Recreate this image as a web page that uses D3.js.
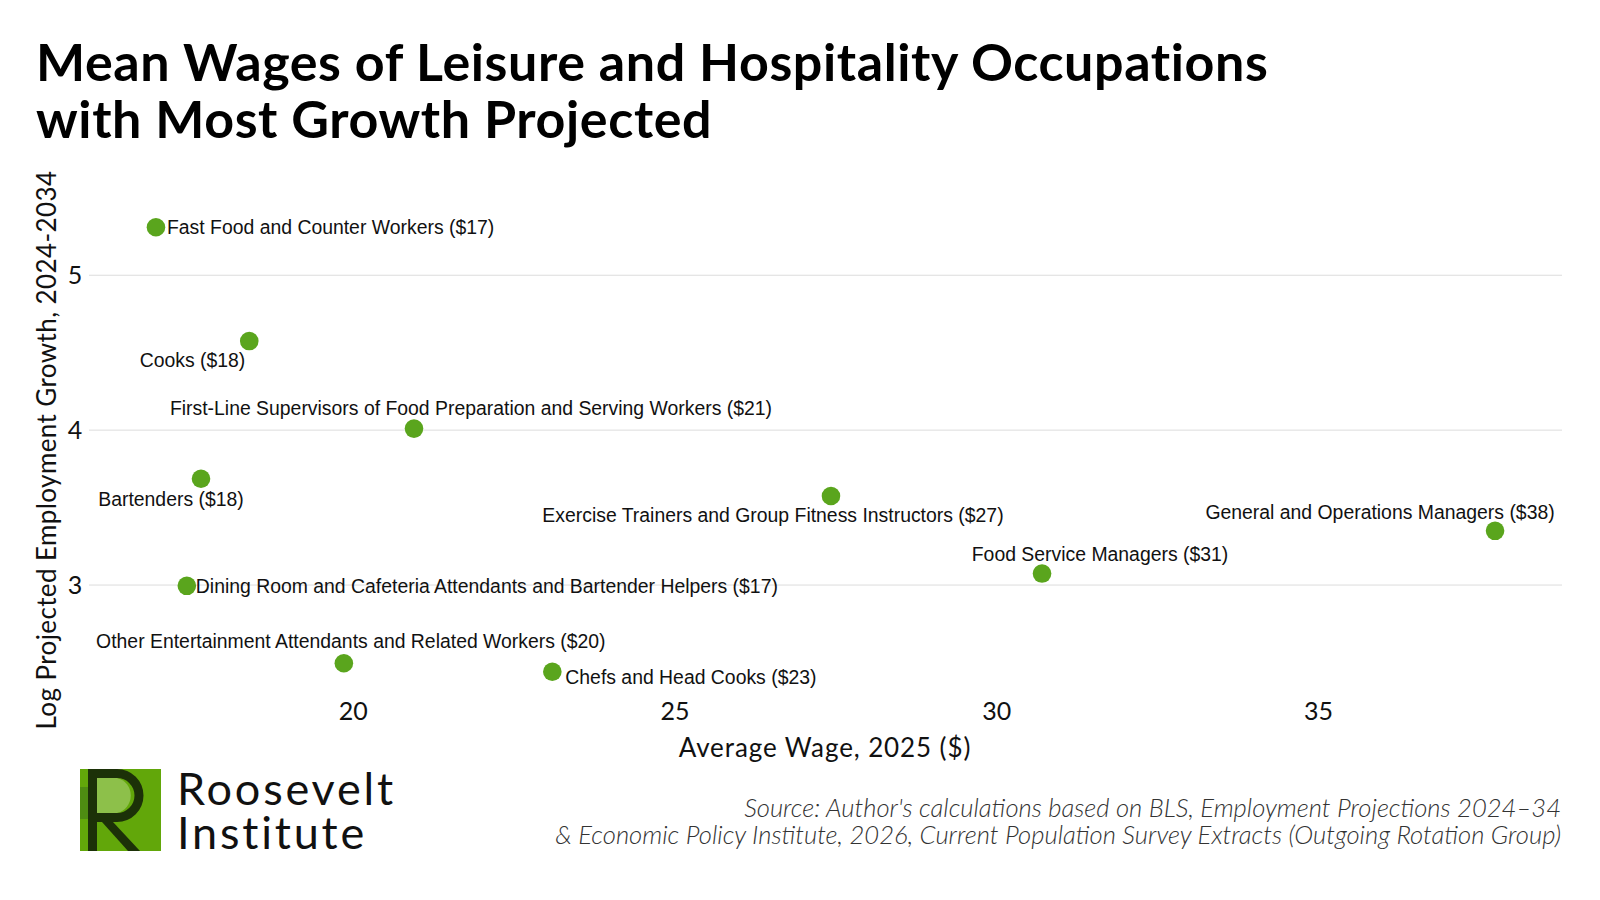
<!DOCTYPE html>
<html>
<head>
<meta charset="utf-8">
<script src="https://cdn.jsdelivr.net/npm/d3@7"></script>
<style>
  body { margin: 0; background: #fff; }
  svg { display: block; }
</style>
</head>
<body>
<svg id="canvas" width="1600" height="900"></svg>
<script>
// occupations, wages and growth
let occupations = [
  "Fast Food and Counter Workers",
  "Cooks",
  "First-Line Supervisors of Food Preparation and Serving Workers",
  "Bartenders",
  "Exercise Trainers and Group Fitness Instructors",
  "General and Operations Managers",
  "Food Service Managers",
  "Dining Room and Cafeteria Attendants and Bartender Helpers",
  "Other Entertainment Attendants and Related Workers",
  "Chefs and Head Cooks"
]
let wages = [16.94, 18.39, 20.95, 17.64, 27.43, 37.75, 30.71, 17.42, 19.86, 23.10]
let growth = [5.31, 4.575, 4.01, 3.686, 3.575, 3.35, 3.074, 2.995, 2.495, 2.44]

let xTicks = [20, 25, 30, 35]
let yTicks = [3, 4, 5]

// where each label sits relative to its dot (repel-style)
let labelPlace = [
  { dx: 11, dy: 0, anchor: 'start' },
  { dx: -4, dy: 19, anchor: 'end' },
  { dx: 57, dy: -20, anchor: 'middle' },
  { dx: -30, dy: 20, anchor: 'middle' },
  { dx: -58, dy: 19.5, anchor: 'middle' },
  { dx: -115, dy: -18.5, anchor: 'middle' },
  { dx: 58, dy: -19.5, anchor: 'middle' },
  { dx: 9, dy: 0, anchor: 'start' },
  { dx: 7, dy: -22.5, anchor: 'middle' },
  { dx: 13, dy: 5, anchor: 'start' }
]

let green = '#5aa51d'
let headFont = 'Lato, "Open Sans", sans-serif'
let labelFont = '"Liberation Sans", Arial, sans-serif'

let canvas = d3.select('#canvas')

let points = occupations.map((name, i) => {
  return { name: name, wage: wages[i], growth: growth[i], place: labelPlace[i] }
})

// ggplot-like 5% expansion
let expand = (ext) => {
  let pad = (ext[1] - ext[0]) * 0.05
  return [ext[0] - pad, ext[1] + pad]
}

let xScale = d3.scaleLinear()
  .domain(expand(d3.extent(wages)))
  .range([89, 1562])

let yScale = d3.scaleLinear()
  .domain(expand(d3.extent(growth)))
  .range([694, 205])

// title
let title = canvas.append('text')
  .attr('x', 36)
  .attr('font-family', headFont)
  .attr('font-weight', 700)
  .attr('font-size', 52)
  .attr('letter-spacing', 0.6)
  .attr('fill', '#000')
title.append('tspan').attr('x', 36).attr('y', 81).text('Mean Wages of Leisure and Hospitality Occupations')
title.append('tspan').attr('x', 36).attr('y', 138).text('with Most Growth Projected')

// horizontal grid
canvas.append('g')
  .selectAll('line')
  .data(yTicks)
  .enter()
  .append('line')
  .attr('x1', xScale.range()[0])
  .attr('x2', xScale.range()[1])
  .attr('y1', (d) => yScale(d))
  .attr('y2', (d) => yScale(d))
  .attr('stroke', '#dcdcdc')
  .attr('stroke-width', 1)

// axes, no lines, just labels
let yAxis = d3.axisLeft(yScale).tickValues(yTicks).tickFormat(d3.format('d')).tickSize(0).tickPadding(0)
let yAxisG = canvas.append('g')
  .attr('transform', 'translate(86,0)')
  .call(yAxis)
yAxisG.select('.domain').remove()
yAxisG.selectAll('text')
  .attr('font-family', headFont)
  .attr('font-size', 25)
  .attr('fill', '#111')
  .attr('text-anchor', 'middle')
  .attr('x', -11)

let xAxis = d3.axisBottom(xScale).tickValues(xTicks).tickSize(0).tickPadding(0)
let xAxisG = canvas.append('g')
  .attr('transform', 'translate(0,700)')
  .call(xAxis)
xAxisG.select('.domain').remove()
xAxisG.selectAll('text')
  .attr('font-family', headFont)
  .attr('font-size', 25)
  .attr('fill', '#111')
  .attr('dy', '0.75em')
  .attr('y', 1)

// axis titles
canvas.append('text')
  .attr('x', 825)
  .attr('y', 748)
  .attr('dy', '0.35em')
  .attr('text-anchor', 'middle')
  .attr('font-family', headFont)
  .attr('font-size', 26)
  .attr('letter-spacing', 0.9)
  .attr('fill', '#111')
  .text('Average Wage, 2025 ($)')

canvas.append('text')
  .attr('transform', 'translate(47,450) rotate(-90)')
  .attr('dy', '0.35em')
  .attr('text-anchor', 'middle')
  .attr('font-family', headFont)
  .attr('font-size', 26)
  .attr('letter-spacing', 0.4)
  .attr('fill', '#111')
  .text('Log Projected Employment Growth, 2024-2034')

// dots
canvas.append('g')
  .selectAll('circle')
  .data(points)
  .enter()
  .append('circle')
  .attr('cx', (d) => xScale(d.wage))
  .attr('cy', (d) => yScale(d.growth))
  .attr('r', 9.3)
  .attr('fill', green)

// labels
canvas.append('g')
  .selectAll('text')
  .data(points)
  .enter()
  .append('text')
  .attr('x', (d) => xScale(d.wage) + d.place.dx)
  .attr('y', (d) => yScale(d.growth) + d.place.dy)
  .attr('dy', '0.35em')
  .attr('text-anchor', (d) => d.place.anchor)
  .attr('font-family', labelFont)
  .attr('font-size', 19.4)
  .attr('fill', '#111')
  .text((d) => d.name + ' ($' + Math.round(d.wage) + ')')

// source note
let source = canvas.append('text')
  .attr('text-anchor', 'end')
  .attr('font-family', headFont)
  .attr('font-style', 'italic')
  .attr('font-weight', 300)
  .attr('font-size', 25.6)
  .attr('fill', '#333')
source.append('tspan').attr('x', 1561).attr('y', 817)
  .text("Source: Author's calculations based on BLS, Employment Projections 2024\u201334")
source.append('tspan').attr('x', 1561).attr('y', 844)
  .text('& Economic Policy Institute, 2026, Current Population Survey Extracts (Outgoing Rotation Group)')

// logo
let logo = canvas.append('g').attr('transform', 'translate(80,769)')
logo.append('rect').attr('width', 81).attr('height', 82).attr('fill', '#62a70a')
logo.append('path')
  .attr('d', 'M17,9 L37,9 A18,18 0 0 1 37,44 L17,44 Z')
  .attr('fill', '#8dc04a')
logo.append('path')
  .attr('d', 'M0,18 L8,18 L8,50 L0,50 Z')
  .attr('fill', '#4e8c12')
logo.append('path')
  .attr('d', 'M8,50 L17,50 L17,62 Z')
  .attr('fill', '#c8e0a6')
logo.append('rect').attr('x', 8).attr('y', 0).attr('width', 9).attr('height', 82).attr('fill', '#1c3108')
logo.append('path')
  .attr('d', 'M17,0 L37,0 A26.5,26.5 0 0 1 37,53 L17,53 L17,44 L37,44 A17.5,17.5 0 0 0 37,9 L17,9 Z')
  .attr('fill', '#1c3108')
logo.append('path')
  .attr('d', 'M22,53 L33,53 L60,82 L48,82 Z')
  .attr('fill', '#1c3108')

canvas.append('text')
  .attr('x', 177).attr('y', 805)
  .attr('font-family', headFont)
  .attr('font-size', 45)
  .attr('letter-spacing', 2.8)
  .attr('fill', '#111')
  .text('Roosevelt')
canvas.append('text')
  .attr('x', 177).attr('y', 849)
  .attr('font-family', headFont)
  .attr('font-size', 45)
  .attr('letter-spacing', 2.8)
  .attr('fill', '#111')
  .text('Institute')
</script>
</body>
</html>
